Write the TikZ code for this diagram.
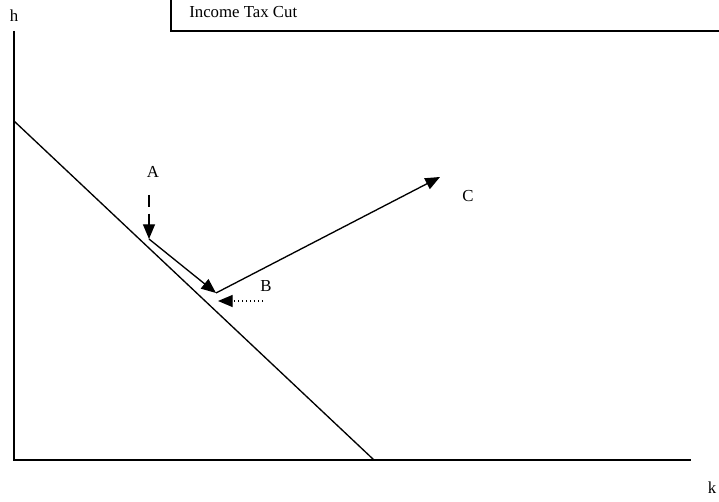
\documentclass[tikz,border=0pt]{standalone}
\usepackage{fontspec}
\setmainfont{Liberation Serif}
\usetikzlibrary{positioning,arrows.meta}
\tikzset{>={Triangle[length=11pt,width=9pt]}}
\tikzset{axisline/.style={line width=1pt}}
\tikzset{movearrow/.style={line width=1pt,->}}
\tikzset{lbl/.style={font=\fontsize{12.6}{14}\selectfont,inner sep=0pt}}

\begin{document}
\begin{tikzpicture}[x=0.75pt,y=-0.75pt]
    \useasboundingbox (0,0) rectangle (719,502);
    % axes
    \coordinate (O) at (14,460);
    \coordinate (ytop) at (14,31);
    \coordinate (xend) at (691,460);
    \draw[axisline] (ytop) -- (O) -- (xend);
    \node[lbl] (h) at (14,16) {h};
    \node[lbl] (k) at (712,488) {k};
    % title box
    \coordinate (box1) at (171,0);
    \coordinate (box2) at (171,31);
    \coordinate (box3) at (719,31);
    \draw[axisline] (box1) -- (box2) -- (box3);
    \node[lbl, anchor=west] (title) at (189,12) {Income Tax Cut};
    % budget line
    \coordinate (bl1) at (14,121);
    \coordinate (bl2) at (374,460);
    \draw[axisline] (bl1) -- (bl2);
    % points
    \coordinate (A0) at (149,195);
    \coordinate (A1) at (149,239);
    \coordinate (B0) at (216,293);
    \coordinate (C0) at (440,177);
    \coordinate (D0) at (263,301);
    \coordinate (D1) at (218,301);
    \node[lbl] (A) at (153,172) {A};
    \node[lbl] (B) at (266,286) {B};
    \node[lbl] (C) at (468,196) {C};
    % moves
    \draw[movearrow, dash pattern=on 9pt off 5pt] (A0) -- (A1);
    \draw[movearrow] (A1) -- (B0);
    \draw[movearrow] (B0) -- (C0);
    \draw[movearrow, dotted] (D0) -- (D1);
\end{tikzpicture}
\end{document}
